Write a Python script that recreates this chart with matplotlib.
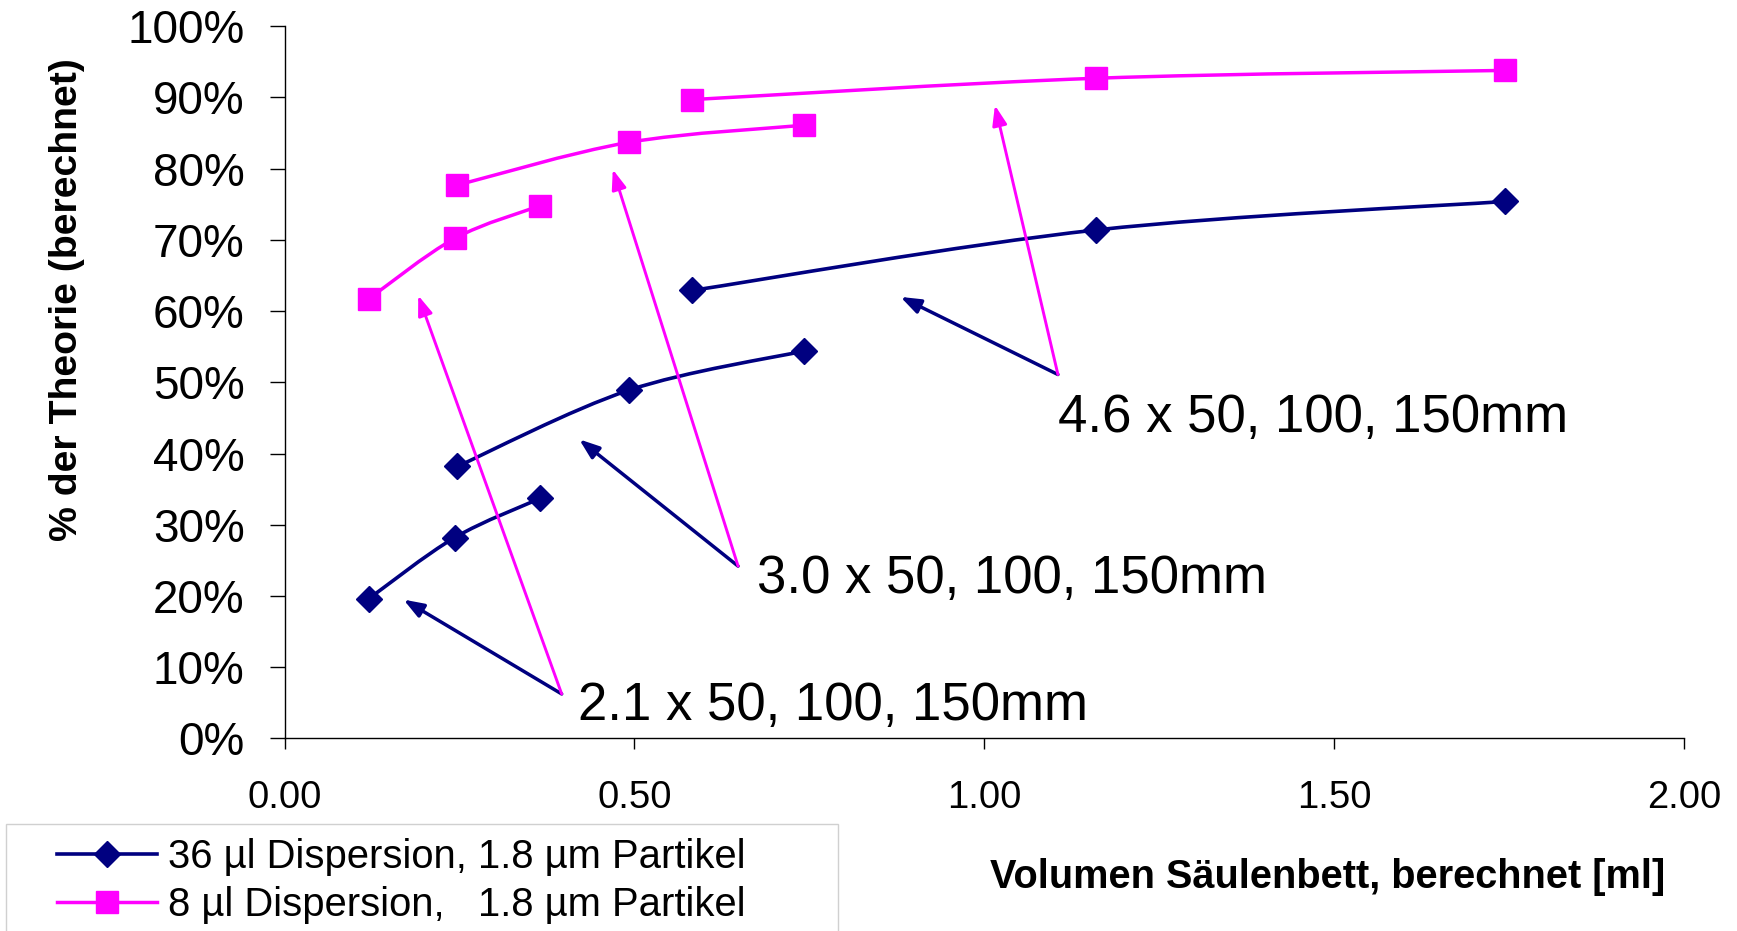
import matplotlib
matplotlib.use('Agg')
import matplotlib.pyplot as plt
from matplotlib.path import Path
from matplotlib.patches import PathPatch, Rectangle
from matplotlib.lines import Line2D
from matplotlib.ticker import FuncFormatter

plt.rcParams['font.family'] = ['Liberation Sans', 'DejaVu Sans']

# Bed volume [ml] for the three column diameters (50, 100, 150 mm long)
vol_21 = [0.120, 0.243, 0.365]
vol_30 = [0.247, 0.492, 0.742]
vol_46 = [0.582, 1.160, 1.744]

# % of theory, 36 ul dispersion
eff36_21 = [19.6, 28.2, 33.7]
eff36_30 = [38.2, 48.9, 54.4]
eff36_46 = [62.9, 71.4, 75.4]

# % of theory, 8 ul dispersion
eff8_21 = [61.7, 70.2, 74.8]
eff8_30 = [77.7, 83.7, 86.1]
eff8_46 = [89.7, 92.7, 93.8]

labels = ["36 µl Dispersion, 1.8 µm Partikel", "8 µl Dispersion,   1.8 µm Partikel"]
col_labels = ["2.1 x 50, 100, 150mm", "3.0 x 50, 100, 150mm", "4.6 x 50, 100, 150mm"]

NAVY = '#000080'
MAGENTA = '#FF00FF'


def smooth_path(xs, ys):
    # Excel-like smoothed line: cubic bezier through the points
    pts = list(zip(xs, ys))
    n = len(pts)
    verts = [pts[0]]
    codes = [Path.MOVETO]
    for i in range(n - 1):
        p0 = pts[i - 1] if i > 0 else pts[i]
        p1 = pts[i]
        p2 = pts[i + 1]
        p3 = pts[i + 2] if i + 2 < n else pts[i + 1]
        c1 = (p1[0] + (p2[0] - p0[0]) / 6, p1[1] + (p2[1] - p0[1]) / 6)
        c2 = (p2[0] - (p3[0] - p1[0]) / 6, p2[1] - (p3[1] - p1[1]) / 6)
        verts += [c1, c2, p2]
        codes += [Path.CURVE4] * 3
    return Path(verts, codes)


fig = plt.figure(figsize=(17.37, 9.31), dpi=100)
ax = fig.add_axes([0.1638, 0.2068, 0.8059, 0.765])

groups = [(vol_21, eff36_21, eff8_21), (vol_30, eff36_30, eff8_30), (vol_46, eff36_46, eff8_46)]
for xs, y36, y8 in groups:
    ax.add_patch(PathPatch(smooth_path(xs, y36), fill=False, edgecolor=NAVY, lw=2.6, zorder=2))
    ax.add_patch(PathPatch(smooth_path(xs, y8), fill=False, edgecolor=MAGENTA, lw=2.5, zorder=2))
    ax.plot(xs, y36, linestyle='none', marker='D', ms=13, color=NAVY, zorder=3)
    ax.plot(xs, y8, linestyle='none', marker='s', ms=15.5, color=MAGENTA, zorder=3)

# annotation arrows: (text pos, tail, navy tip, magenta tip)
notes = [
    ((0.419, 2.6), (0.396, 6.25), (0.170, 19.5), (0.191, 62.2)),
    ((0.675, 20.4), (0.648, 24.2), (0.421, 42.0), (0.469, 79.9)),
    ((1.105, 43.0), (1.105, 51.1), (0.880, 62.0), (1.015, 88.9)),
]
for text, (tpos, tail, tip36, tip8) in zip(col_labels, notes):
    ax.annotate('', xy=tip36, xytext=tail, zorder=5,
                arrowprops=dict(arrowstyle='-|>,head_length=0.6,head_width=0.22', mutation_scale=20,
                                color=NAVY, lw=2.5, shrinkA=0, shrinkB=0))
    ax.annotate('', xy=tip8, xytext=tail, zorder=6,
                arrowprops=dict(arrowstyle='-|>,head_length=0.6,head_width=0.22', mutation_scale=20,
                                color=MAGENTA, lw=2.1, shrinkA=0, shrinkB=0))
    ax.text(tpos[0], tpos[1], text, fontsize=38, ha='left', va='baseline', zorder=7)

ax.set_xlim(0, 2.0)
ax.set_ylim(0, 100)
ax.set_xticks([0, 0.5, 1.0, 1.5, 2.0])
ax.set_yticks(range(0, 101, 10))
ax.xaxis.set_major_formatter(FuncFormatter(lambda v, p: f"{v:.2f}"))
ax.yaxis.set_major_formatter(FuncFormatter(lambda v, p: f"{v:.0f}%"))
ax.tick_params(axis='y', labelsize=33, length=10.8, width=1, pad=18)
ax.tick_params(axis='x', labelsize=27.5, length=8, width=1, pad=22)
for s in ['top', 'right']:
    ax.spines[s].set_visible(False)
for s in ['left', 'bottom']:
    ax.spines[s].set_linewidth(1)

ax.set_xlabel("Volumen Säulenbett, berechnet [ml]", fontsize=28.6, fontweight='bold', va='center')
ax.xaxis.set_label_coords(0.7455, -0.1945)
ax.set_ylabel("% der Theorie (berechnet)", fontsize=28.3, fontweight='bold', va='center')
ax.yaxis.set_label_coords(-0.1557, 0.6157)

# legend box (runs off the bottom of the figure)
fig.add_artist(Rectangle((5.7 / 1737, -0.05), (838 - 5.7) / 1737, 0.05 + 1 - 824.3 / 931,
                         transform=fig.transFigure, fill=False, edgecolor='#d0d0d0', lw=1))
handles = [Line2D([], [], color=NAVY, lw=2.6, marker='D', ms=13),
           Line2D([], [], color=MAGENTA, lw=2.5, marker='s', ms=15.5)]
fig.legend(handles, labels, loc='upper left', bbox_to_anchor=(57 / 1737, 1 - 838 / 931),
           frameon=False, fontsize=28.8, handlelength=2.5, handletextpad=0.28,
           labelspacing=0.26, borderpad=0, borderaxespad=0)

plt.savefig('out.png', dpi=100)
